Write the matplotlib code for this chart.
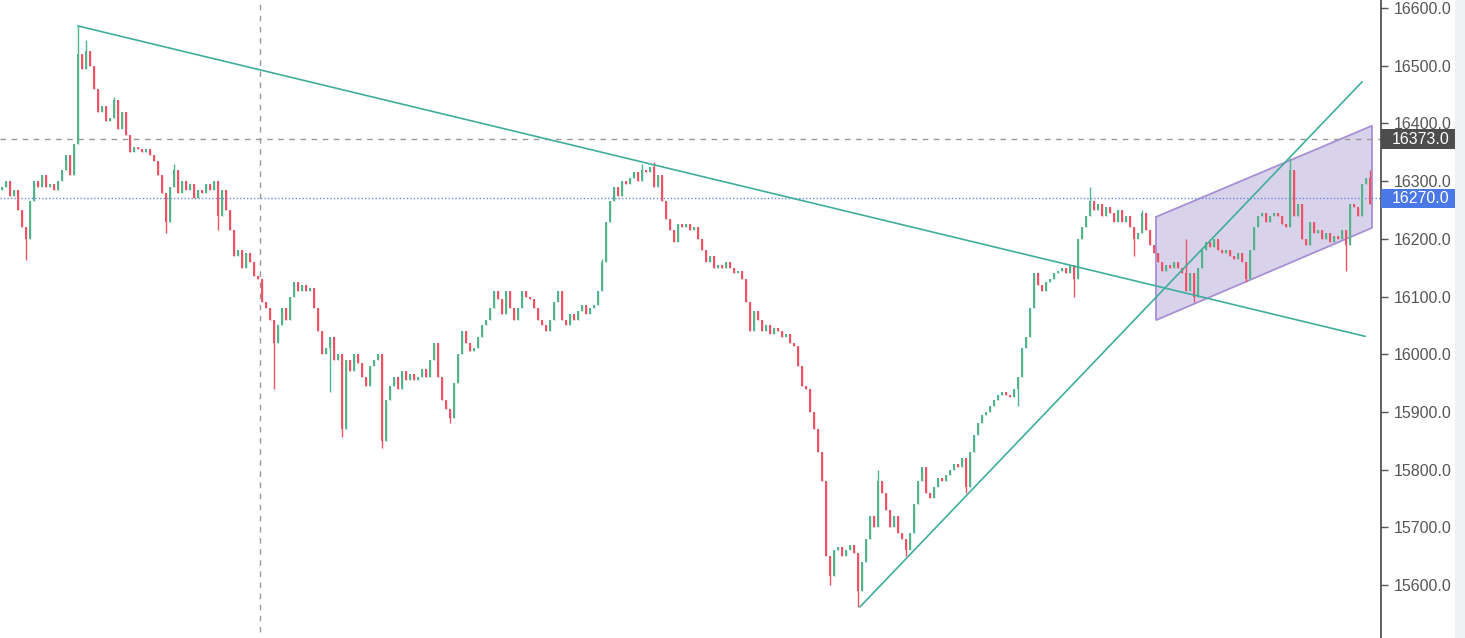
import numpy as np
import matplotlib.pyplot as plt
import matplotlib.transforms as mtransforms
from matplotlib.patches import Polygon, Rectangle

# precios de cierre (una vela cada ~4 px)
cierres = [
    16290, 16300, 16275, 16285, 16250, 16220, 16200, 16265, 16300, 16290,
    16310, 16290, 16295, 16285, 16300, 16320, 16345, 16310, 16365, 16520,
    16495, 16525, 16500, 16460, 16420, 16430, 16405, 16410, 16440, 16390,
    16420, 16380, 16350, 16360, 16355, 16350, 16355, 16345, 16335, 16310,
    16280, 16230, 16290, 16320, 16280, 16300, 16285, 16295, 16270, 16285,
    16280, 16295, 16285, 16300, 16240, 16285, 16250, 16215, 16170, 16180,
    16150, 16175, 16160, 16135, 16130, 16090, 16080, 16060, 16020, 16050,
    16080, 16060, 16100, 16125, 16110, 16120, 16110, 16115, 16080, 16040,
    16000, 16010, 16030, 15990, 16000, 15870, 15990, 15970, 16000, 15985,
    15960, 15945, 15980, 15990, 16000, 15850, 15920, 15945, 15960, 15940,
    15970, 15955, 15965, 15955, 15960, 15975, 15960, 15990, 16020, 15960,
    15920, 15905, 15890, 15950, 16000, 16040, 16020, 16005, 16010, 16030,
    16050, 16060, 16080, 16110, 16095, 16070, 16110, 16080, 16060, 16080,
    16110, 16100, 16095, 16080, 16060, 16050, 16040, 16060, 16090, 16110,
    16060, 16050, 16070, 16060, 16075, 16085, 16070, 16080, 16085, 16110,
    16160, 16230, 16265, 16290, 16275, 16300, 16295, 16305, 16315, 16300,
    16320, 16315, 16325, 16290, 16310, 16265, 16235, 16215, 16195, 16225,
    16220, 16225, 16215, 16220, 16200, 16180, 16160, 16170, 16150, 16155,
    16150, 16160, 16150, 16140, 16145, 16130, 16090, 16040, 16075, 16060,
    16040, 16050, 16035, 16045, 16040, 16030, 16035, 16020, 16015, 15980,
    15945, 15940, 15900, 15870, 15830, 15780, 15650, 15615, 15660, 15665,
    15650, 15660, 15670, 15655, 15590, 15640, 15680, 15720, 15700, 15780,
    15760, 15730, 15700, 15720, 15690, 15680, 15660, 15690, 15740, 15780,
    15805, 15760, 15750, 15770, 15785, 15780, 15790, 15800, 15810, 15805,
    15820, 15770, 15830, 15860, 15880, 15895, 15900, 15910, 15920, 15930,
    15935, 15930, 15925, 15940, 15960, 16010, 16030, 16080, 16140, 16120,
    16110, 16125, 16130, 16140, 16145, 16150, 16140, 16155, 16130, 16200,
    16220, 16240, 16265, 16250, 16260, 16240, 16255, 16245, 16230, 16250,
    16230, 16240, 16220, 16200, 16210, 16245, 16215, 16190, 16175, 16160,
    16145, 16155, 16150, 16160, 16150, 16140, 16110, 16140, 16100, 16150,
    16180, 16195, 16185, 16200, 16180, 16175, 16180, 16170, 16165, 16175,
    16160, 16130, 16180, 16220, 16240, 16245, 16230, 16240, 16245, 16240,
    16225, 16220, 16320, 16240, 16260, 16200, 16190, 16230, 16210, 16215,
    16200, 16210, 16195, 16205, 16200, 16215, 16190, 16260, 16255, 16240,
    16295, 16305, 16260,
]
apertura_inicial = 16285

# mechas largas visibles (indice de vela: precio)
maximos_largos = {19: 16569, 21: 16545, 28: 16445, 43: 16330, 150: 16165,
                  160: 16330, 163: 16334, 219: 15800, 272: 16290,
                  285: 16250, 296: 16200, 322: 16340, 342: 16320}
minimos_largos = {6: 16163, 41: 16210, 54: 16215, 68: 15940, 82: 15935,
                  85: 15857, 95: 15838, 112: 15880, 207: 15600, 214: 15562,
                  226: 15650, 241: 15760, 254: 15910, 268: 16100, 283: 16170,
                  298: 16090, 311: 16125, 336: 16145}

# lineas de tendencia (indice de vela, precio)
tendencia_baja = [(19, 16569), (340.75, 16031)]
tendencia_alta = [(214.5, 15562), (340, 16472)]
canal = [(288.5, 16238), (342.5, 16396), (342.5, 16219), (288.5, 16059)]

precio_cruz = 16373.0
precio_actual = 16270.0
vela_cruz = 64.5
ticks_y = [15600, 15700, 15800, 15900, 16000, 16100, 16200, 16300, 16400, 16500, 16600]

verde = '#52b48a'
rojo = '#ee5264'
teal = '#3fae9b'

cierres = np.array(cierres, dtype=float)
aperturas = np.concatenate([[apertura_inicial], cierres[:-1]])
maximos = np.maximum(aperturas, cierres)
minimos = np.minimum(aperturas, cierres)
for k, v in maximos_largos.items():
    maximos[k] = max(maximos[k], v)
for k, v in minimos_largos.items():
    minimos[k] = min(minimos[k], v)
idx = np.arange(len(cierres))
colores = np.where(cierres >= aperturas, verde, rojo)

fig = plt.figure(figsize=(14.65, 6.38), dpi=100)
ax = fig.add_axes([0, 0, 1381 / 1465, 1])
fig.patches.append(Rectangle((1455 / 1465, 0), 10 / 1465, 1, transform=fig.transFigure,
                             facecolor='#eef0f4', edgecolor='none'))

# canal
ax.add_patch(Polygon(canal, closed=True, facecolor='#d9d2eb', edgecolor='#a98fd4',
                     linewidth=1.3, zorder=1))

# velas
ax.vlines(idx, minimos, maximos, colors=colores, linewidth=1.0, zorder=3)
altura = np.abs(cierres - aperturas)
altura = np.where(altura < 2, 2, altura)
ax.bar(idx, altura, bottom=np.minimum(aperturas, cierres), width=0.62,
       color=colores, linewidth=0, zorder=3)

# lineas de tendencia
for linea in (tendencia_baja, tendencia_alta):
    xs, ys = zip(*linea)
    ax.plot(xs, ys, color=teal, linewidth=1.2, zorder=4)

# cruz y precio actual
ax.axhline(precio_cruz, color='#999999', linestyle=(0, (4, 4)), linewidth=1.0, zorder=2)
ax.axvline(vela_cruz, ymin=0.01, color='#999999', linestyle=(0, (4, 4)), linewidth=1.0, zorder=2)
ax.axhline(precio_actual, color='#6a86e8', linestyle=(0, (1, 1.5)), linewidth=1.0, zorder=2)

ax.set_xlim(-0.5, 344.75)
ax.set_ylim(15508, 16614)
ax.set_xticks([])
ax.yaxis.tick_right()
ax.set_yticks(ticks_y)
ax.set_yticklabels([f'{t:.1f}' for t in ticks_y])
ax.tick_params(axis='y', direction='out', length=5, width=1, color='#555555',
               labelcolor='#555555', labelsize=11.5, pad=4)
for lab in ax.get_yticklabels():
    lab.set_family('Liberation Sans')
for lado in ('top', 'left', 'bottom'):
    ax.spines[lado].set_visible(False)
ax.spines['right'].set_color('#444444')
ax.spines['right'].set_linewidth(1.2)

# etiquetas de precio en el eje
trans = mtransforms.blended_transform_factory(ax.transAxes, ax.transData)
alto_caja = 34.0
for precio, fondo in ((precio_cruz, '#4d4d4d'), (precio_actual, '#4a78e6')):
    ax.add_patch(Rectangle((1.0, precio - alto_caja / 2), 74 / 1381, alto_caja,
                           transform=trans, facecolor=fondo, edgecolor='none',
                           clip_on=False, zorder=10))
    ax.text(1.0 + 11 / 1381, precio, f'{precio:.1f}', transform=trans, ha='left',
            va='center', fontsize=11.5, family='Liberation Sans', color='white',
            zorder=11, clip_on=False)

fig.savefig('out.png', dpi=100)
